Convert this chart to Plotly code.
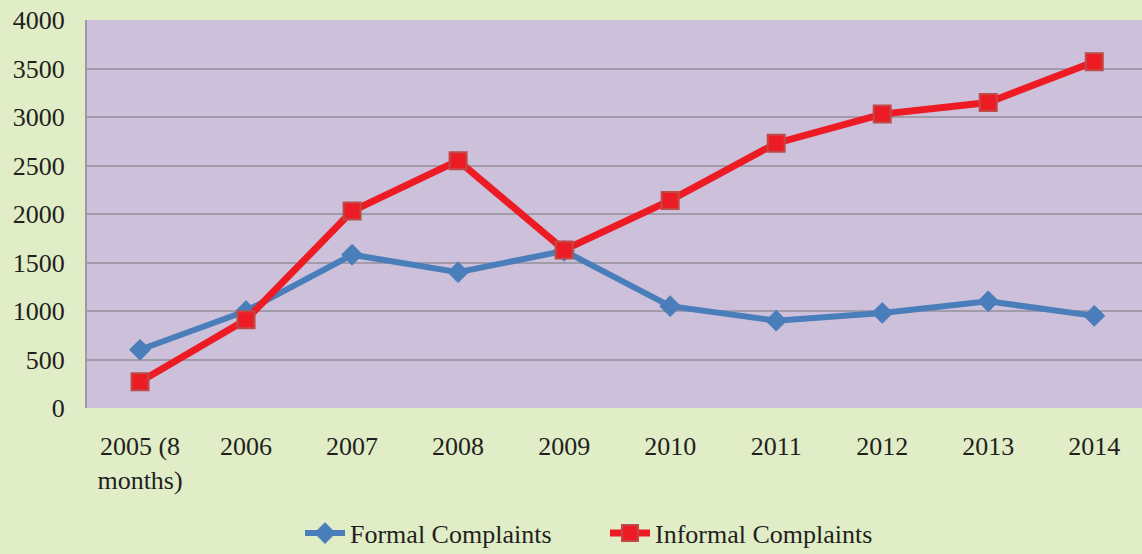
import plotly.graph_objects as go

categories = ["2005 (8<br>months)", "2006", "2007", "2008", "2009", "2010", "2011", "2012", "2013", "2014"]
formal = [600, 1000, 1580, 1400, 1620, 1050, 900, 980, 1100, 950]
informal = [270, 910, 2030, 2550, 1630, 2140, 2730, 3030, 3150, 3570]
y_ticks = [0, 500, 1000, 1500, 2000, 2500, 3000, 3500, 4000]

font_family = "Liberation Serif, Times New Roman, serif"

fig = go.Figure()
fig.add_trace(go.Scatter(
    x=categories, y=formal, mode="lines+markers", name="Formal Complaints",
    line=dict(color="#4A7EBB", width=6),
    marker=dict(symbol="diamond", size=16, color="#4A7EBB", line=dict(color="#4A7EBB", width=1)),
))
fig.add_trace(go.Scatter(
    x=categories, y=informal, mode="lines+markers", name="Informal Complaints",
    line=dict(color="#ED1C24", width=7),
    marker=dict(symbol="square", size=17, color="#ED1C24", line=dict(color="#BE4B48", width=2)),
))

fig.update_layout(
    width=1142, height=554,
    margin=dict(l=87, r=0, t=20, b=146, autoexpand=False),
    paper_bgcolor="#E0EDC6",
    plot_bgcolor="#CCC0DA",
    font=dict(family=font_family, size=26, color="#231F20"),
    showlegend=True,
    legend=dict(orientation="h", x=0.491, xanchor="center", y=-0.262, yanchor="top",
                font=dict(size=26), bgcolor="rgba(0,0,0,0)", itemwidth=40,
                entrywidth=250),
    xaxis=dict(
        type="category", range=[-0.5, 9.45], showgrid=False, zeroline=False,
        showline=False, ticks="", ticklabelstandoff=20, automargin=False,
        tickfont=dict(size=26),
    ),
    yaxis=dict(
        range=[0, 4000], tickvals=y_ticks, showgrid=True, gridcolor="#A29BAA", gridwidth=2,
        zeroline=False, showline=True, linecolor="#9E9AA0", linewidth=2, automargin=False,
        ticks="", ticklabelstandoff=15, tickfont=dict(size=26),
    ),
)

fig.write_html("out.html", config={"displayModeBar": False},
               post_script="document.body.style.margin='0';document.body.style.padding='0';")
